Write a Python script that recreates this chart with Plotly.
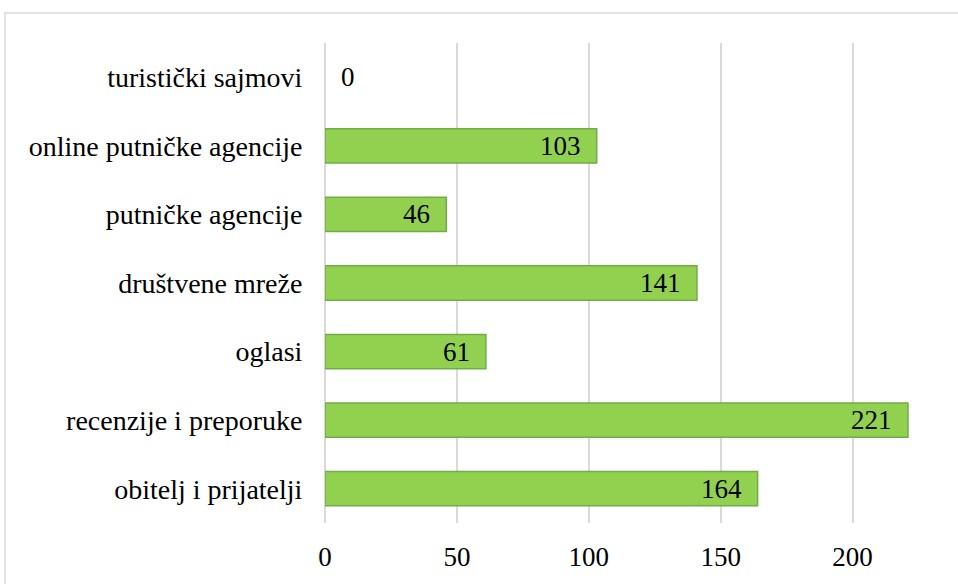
import plotly.graph_objects as go

categories = ["obitelj i prijatelji", "recenzije i preporuke", "oglasi", "društvene mreže",
              "putničke agencije", "online putničke agencije", "turistički sajmovi"]
values = [164, 221, 61, 141, 46, 103, 0]
x_ticks = [0, 50, 100, 150, 200]

W, H = 958, 584
left, right_px, top, bottom_px = 325, 937, 43, 525
FONT = "Liberation Serif"

fig = go.Figure(go.Bar(
    y=categories, x=values, orientation="h",
    marker=dict(color="#92D050",
                line=dict(color="#70AD47", width=[1.5 if v else 0 for v in values])),
    width=0.5,
    hoverinfo="x+y",
))

annotations = []
for c, v in zip(categories, values):
    if v == 0:
        annotations.append(dict(x=v, y=c, text=str(v), showarrow=False, xanchor="left",
                                xshift=14, font=dict(family=FONT, size=27, color="black")))
    else:
        annotations.append(dict(x=v, y=c, text=str(v), showarrow=False, xanchor="right",
                                xshift=-14, font=dict(family=FONT, size=27, color="black")))

fig.update_layout(
    width=W, height=H,
    margin=dict(l=left, r=W - right_px, t=top, b=H - bottom_px),
    plot_bgcolor="white", paper_bgcolor="white",
    font=dict(family=FONT, size=27, color="black"),
    showlegend=False,
    annotations=annotations,
    xaxis=dict(range=[0, 232], tickvals=x_ticks, showgrid=True, gridcolor="#D9D9D9",
               gridwidth=1.5, zeroline=True, zerolinecolor="#D9D9D9", zerolinewidth=1.5,
               ticks="outside", ticklen=10, tickcolor="rgba(0,0,0,0)",
               tickfont=dict(family=FONT, size=27, color="black")),
    yaxis=dict(categoryorder="array", categoryarray=categories, range=[-0.5, 6.5],
               ticks="outside", ticklen=16, tickcolor="rgba(0,0,0,0)",
               tickfont=dict(family=FONT, size=28, color="black")),
    shapes=[dict(type="rect", xref="paper", yref="paper",
                 x0=(5 - left) / (right_px - left), x1=1.2,
                 y0=-0.3, y1=(bottom_px - 13) / (bottom_px - top),
                 line=dict(color="#D9D9D9", width=1.5), layer="below")],
)

fig.write_html("out.html", config={"displayModeBar": False},
               post_script="document.body.style.margin='0';")
